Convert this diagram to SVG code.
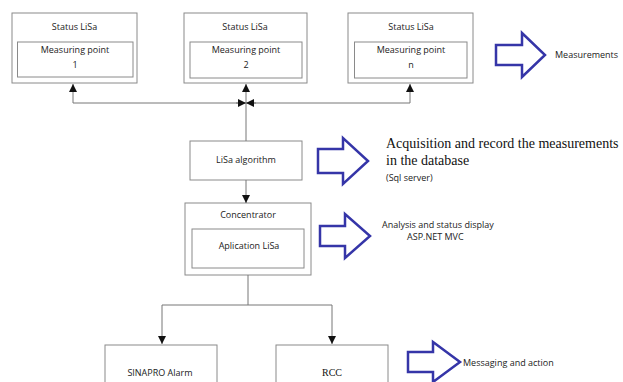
<svg xmlns="http://www.w3.org/2000/svg" width="623" height="382" viewBox="0 0 623 382">
<style>
.box{fill:#fff;stroke:#8a8a8a;stroke-width:1}
.t{font-family:"Open Sans","Liberation Sans",sans-serif;font-size:9px;fill:#222;text-anchor:middle}
.l{font-family:"Open Sans","Liberation Sans",sans-serif;font-size:9px;fill:#222}
.s{font-family:"Liberation Serif",serif;fill:#111}
.c{fill:none;stroke:#777;stroke-width:1}
.ba{fill:#fff;stroke:#3535a8;stroke-width:2.5;stroke-linejoin:miter}
</style>
<defs>
<marker id="ah" viewBox="0 0 10 10" refX="10" refY="5" markerWidth="8" markerHeight="9" markerUnits="userSpaceOnUse" orient="auto">
<path d="M0,0 L10,5 L0,10 Z" fill="#111"/>
</marker>
</defs>
<rect width="623" height="382" fill="#fff"/>

<g id="node-mp1">
<rect class="box" x="12" y="13" width="125" height="70"/>
<text class="t" x="74.5" y="30">Status LiSa</text>
<rect class="box" x="17.5" y="42" width="115.5" height="35"/>
<text class="t" x="75" y="53">Measuring point</text>
<text class="t" x="75" y="68">1</text>
</g>
<g id="node-mp2">
<rect class="box" x="184" y="13" width="123" height="70"/>
<text class="t" x="245" y="30">Status LiSa</text>
<rect class="box" x="190" y="42" width="112" height="36"/>
<text class="t" x="246" y="53">Measuring point</text>
<text class="t" x="246" y="68">2</text>
</g>
<g id="node-mpn">
<rect class="box" x="348" y="13" width="125" height="70"/>
<text class="t" x="411" y="30">Status LiSa</text>
<rect class="box" x="354.5" y="42" width="112.5" height="36"/>
<text class="t" x="411" y="53">Measuring point</text>
<text class="t" x="411" y="68">n</text>
</g>
<g id="node-algo">
<rect class="box" x="190" y="141" width="112" height="39"/>
<text class="t" x="246" y="163">LiSa algorithm</text>
</g>
<g id="node-concentrator">
<rect class="box" x="185" y="203" width="126" height="72"/>
<text class="t" x="248" y="218">Concentrator</text>
<rect class="box" x="192" y="229" width="112" height="39"/>
<text class="t" x="249" y="249">Aplication LiSa</text>
</g>
<g id="node-sinapro">
<rect class="box" x="105" y="345" width="112" height="45"/>
<text class="t" x="160" y="376">SINAPRO Alarm</text>
</g>
<g id="node-rcc">
<rect class="box" x="276" y="345" width="112" height="45"/>
<text class="s" x="332" y="376" font-size="10" text-anchor="middle">RCC</text>
</g>

<g id="connectors">
<path class="c" d="M73,103 L73,84" marker-end="url(#ah)"/>
<path class="c" d="M410,103 L410,84" marker-end="url(#ah)"/>
<path class="c" d="M73,103 L410,103"/>
<path class="c" d="M236,103 L246,103" marker-end="url(#ah)"/>
<path class="c" d="M256,103 L246,103" marker-end="url(#ah)"/>
<path class="c" d="M246,141 L246,84" marker-end="url(#ah)"/>
<path class="c" d="M246,180 L246,203" marker-end="url(#ah)"/>
<path class="c" d="M248,275 L248,305 M162,305 L332,305"/>
<path class="c" d="M162,305 L162,344" marker-end="url(#ah)"/>
<path class="c" d="M332,305 L332,344" marker-end="url(#ah)"/>
</g>

<g id="blue-arrows">
<path class="ba" d="M496,45 L522,45 L522,33 L545,55 L522,77 L522,65 L496,65 Z"/>
<path class="ba" d="M318,149 L343,149 L343,138 L368,161 L343,184 L343,173 L318,173 Z"/>
<path class="ba" d="M320,226 L345,226 L345,214 L370,236 L345,258 L345,246 L320,246 Z"/>
<path class="ba" d="M408,352 L433,352 L433,342 L460,362 L433,382 L433,372 L408,372 Z"/>
</g>

<g id="labels">
<text class="l" x="555" y="58">Measurements</text>
<text class="s" x="386" y="148" font-size="14">Acquisition and record the measurements</text>
<text class="s" x="386" y="165" font-size="14">in the database</text>
<text class="l" x="386" y="181" font-size="7.5">(Sql server)</text>
<text class="l" x="382" y="228">Analysis and status display</text>
<text class="l" x="407" y="240">ASP.NET MVC</text>
<text class="l" x="463" y="366">Messaging and action</text>
</g>
</svg>
